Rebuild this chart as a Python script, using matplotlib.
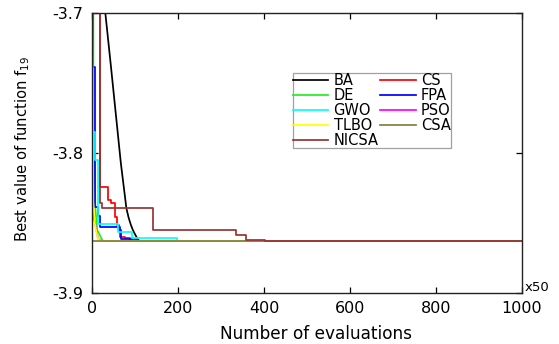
import matplotlib
matplotlib.use("Agg")
import matplotlib.pyplot as plt

plt.rcParams['font.family'] = ['DejaVu Sans']
plt.rcParams['axes.unicode_minus'] = False

# ---- data ----
ba_x = [0, 20, 31, 45, 60, 67, 80, 85, 90, 95, 100, 105, 110, 1000]
ba_y = [-3.55, -3.66, -3.700, -3.741, -3.786, -3.807, -3.8395, -3.846, -3.851, -3.855,
        -3.858, -3.8608, -3.8628, -3.8628]

cs_x = [0, 18, 38, 44, 53, 57, 62, 66, 76, 88, 100, 1000]
cs_y = [-3.6, -3.8241, -3.8335, -3.8355, -3.8455, -3.8514, -3.8555, -3.8598, -3.861,
        -3.8622, -3.8628, -3.8628]

de_x = [0, 3, 3.5, 6, 8, 12, 25, 1000]
de_y = [-3.5, -3.70, -3.80, -3.81, -3.84, -3.855, -3.8628, -3.8628]

fpa_x = [0, 2, 7.7, 14, 18, 64, 68, 104, 1000]
fpa_y = [-3.6, -3.7388, -3.8383, -3.845, -3.8526, -3.855, -3.8617, -3.8628, -3.8628]

gwo_x = [0, 1, 7.7, 14, 61, 92, 197, 1000]
gwo_y = [-3.6, -3.785, -3.805, -3.8505, -3.8562, -3.861, -3.8628, -3.8628]

pso_x = [0, 0, 3, 7, 10, 14, 20, 1000]
pso_y = [-3.6, -3.80, -3.845, -3.850, -3.855, -3.861, -3.8628, -3.8628]

tlbo_x = [0, 1, 3, 6, 10, 14, 18, 1000]
tlbo_y = [-3.5, -3.70, -3.835, -3.849, -3.856, -3.861, -3.8628, -3.8628]

csa_x = [0, 1000]
csa_y = [-3.8628, -3.8628]

nicsa_x = [0, 18, 24, 142, 335, 357, 402, 1000]
nicsa_y = [-3.62, -3.836, -3.8395, -3.855, -3.8586, -3.8624, -3.8628, -3.8628]

x_ticks = [0, 200, 400, 600, 800, 1000]
y_ticks = [-3.9, -3.8, -3.7]
y_ticklabels = ['-3.9', '-3.8', '-3.7']

# ---- figure ----
W, H = 559, 344
fig = plt.figure(figsize=(W / 100, H / 100), dpi=100)
ax = fig.add_axes([92 / W, 1 - 293 / H, (522 - 92) / W, (293 - 13) / H])

lw = 1.25
lines = {}
lines['BA'], = ax.plot(ba_x, ba_y, color='black', lw=lw, label='BA')
lines['CS'], = ax.plot(cs_x, cs_y, color='#ff0000', lw=lw, drawstyle='steps-post', label='CS')
lines['DE'], = ax.plot(de_x, de_y, color='#22ee22', lw=lw, label='DE')
lines['FPA'], = ax.plot(fpa_x, fpa_y, color='#0000ff', lw=lw, drawstyle='steps-post', label='FPA')
lines['GWO'], = ax.plot(gwo_x, gwo_y, color='#00ffff', lw=lw, drawstyle='steps-post', label='GWO')
lines['PSO'], = ax.plot(pso_x, pso_y, color='#ff00ff', lw=lw, label='PSO')
lines['TLBO'], = ax.plot(tlbo_x, tlbo_y, color='#ffff00', lw=lw, label='TLBO')
lines['CSA'], = ax.plot(csa_x, csa_y, color='#808040', lw=lw, label='CSA')
lines['NICSA'], = ax.plot(nicsa_x, nicsa_y, color='#993333', lw=lw, drawstyle='steps-post', label='NICSA')

ax.set_xlim(0, 1000)
ax.set_ylim(-3.9, -3.7)
ax.set_xticks(x_ticks)
ax.set_xticklabels([str(v) for v in x_ticks])
ax.set_yticks(y_ticks)
ax.set_yticklabels(y_ticklabels)

ax.tick_params(axis='both', direction='in', length=4, width=0.9, labelsize=11.5,
               top=True, right=True, colors='black')
ax.tick_params(axis='x', pad=6)
ax.tick_params(axis='y', pad=6)
for s in ax.spines.values():
    s.set_linewidth(1.0)
    s.set_color('#222222')

ax.set_xlabel('Number of evaluations', fontsize=12.2)
ax.xaxis.set_label_coords(0.521, -0.116)
ax.set_ylabel(r'Best value of function $\mathregular{f_{19}}$', fontsize=10.6)
ax.yaxis.set_label_coords(-0.1405, 0.514)

ax.text(1.007, 0.007, 'x50', transform=ax.transAxes, ha='left', va='baseline', fontsize=9.5)

order = ['BA', 'DE', 'GWO', 'TLBO', 'NICSA', 'CS', 'FPA', 'PSO', 'CSA']
leg = ax.legend([lines[k] for k in order], order, ncol=2, loc='upper left',
                bbox_to_anchor=(292.7 / W, 1 - 72.7 / H), bbox_transform=fig.transFigure,
                fontsize=10.5, frameon=True, fancybox=False, framealpha=1,
                borderpad=0.0, labelspacing=0.0, handlelength=2.45, handletextpad=0.35,
                columnspacing=0.1, borderaxespad=0)
leg.get_frame().set_edgecolor('#a0a0a0')
leg.get_frame().set_linewidth(0.9)

fig.savefig('out.png', dpi=100)
